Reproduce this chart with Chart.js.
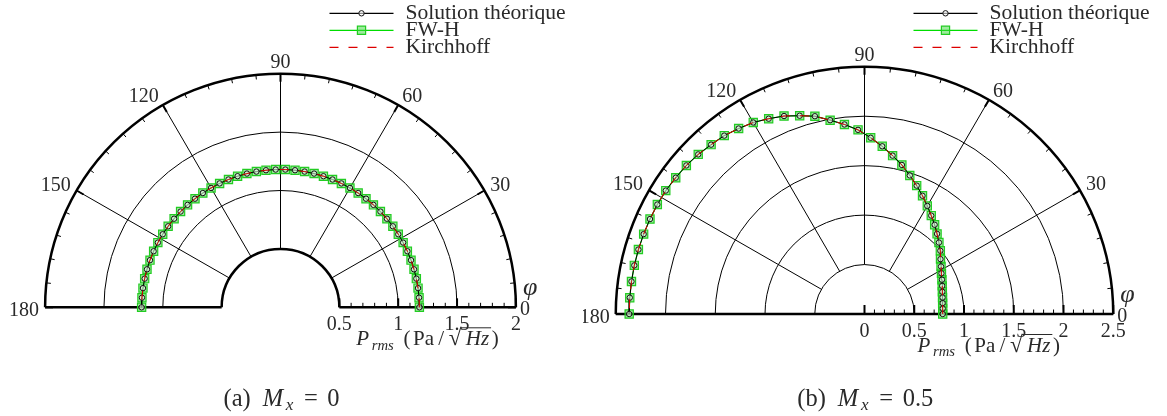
<!DOCTYPE html>
<html>
<head>
<meta charset="utf-8">
<script src="https://cdn.jsdelivr.net/npm/chart.js@4.4.0/dist/chart.umd.min.js"></script>
<style>
  html, body { margin: 0; padding: 0; background: #fff; }
  #wrap { position: relative; width: 1167px; height: 416px; overflow: hidden; }
  canvas { position: absolute; top: 0; }
  #chartA { left: 0; }
  #chartB { left: 583px; }
</style>
</head>
<body>
<div id="wrap">
  <canvas id="chartA" width="583" height="416"></canvas>
  <canvas id="chartB" width="584" height="416"></canvas>
</div>
<script>
// --- data ---
// observation angle phi (deg)
const phi = [0, 4, 8, 12, 16, 20, 24, 28, 32, 36, 40, 44, 48, 52, 56, 60, 64, 68, 72, 76,
             80, 84, 88, 92, 96, 100, 104, 108, 112, 116, 120, 124, 128, 132, 136, 140, 144, 148, 152, 156,
             160, 164, 168, 172, 176, 180];

// P_rms (Pa/sqrt(Hz)) for Mx = 0 -- the three series lie on top of each other
const prmsMx0 = [1.18, 1.18, 1.18, 1.18, 1.18, 1.18, 1.18, 1.18, 1.18, 1.18,
                 1.18, 1.18, 1.18, 1.18, 1.18, 1.18, 1.18, 1.18, 1.18, 1.18,
                 1.18, 1.18, 1.18, 1.18, 1.18, 1.18, 1.18, 1.18, 1.18, 1.18,
                 1.18, 1.18, 1.18, 1.18, 1.18, 1.18, 1.18, 1.18, 1.18, 1.18,
                 1.18, 1.18, 1.18, 1.18, 1.18, 1.18];

// P_rms for Mx = 0.5
const prmsMx05 = [0.786, 0.788, 0.793, 0.802, 0.814, 0.831, 0.852, 0.876, 0.907, 0.944,
                  0.995, 1.040, 1.090, 1.145, 1.200, 1.262, 1.330, 1.400, 1.473, 1.553,
                  1.626, 1.705, 1.783, 1.863, 1.927, 1.990, 2.061, 2.108, 2.159, 2.197,
                  2.236, 2.262, 2.289, 2.304, 2.323, 2.337, 2.345, 2.355, 2.358, 2.360,
                  2.362, 2.364, 2.365, 2.365, 2.365, 2.365];

const seriesNames = ['Solution théorique', 'FW-H', 'Kirchhoff'];
const angleTicks = [30, 60, 90, 120, 150];
const radTicksA = [0.5, 1, 1.5, 2];
const radTicksB = [0, 0.5, 1, 1.5, 2, 2.5];
const captionA = ['(a)', '0'];
const captionB = ['(b)', '0.5'];

const SERIF = '"Liberation Serif", "Times New Roman", serif';
const DEG = Math.PI / 180;
const INK = '#2a2a2a';

// polar -> cartesian so the linear scales can place the marks
function toXY(r) {
  return phi.map((a, i) => ({ x: r[i] * Math.cos(a * DEG), y: r[i] * Math.sin(a * DEG) }));
}

function font(size, italic) {
  return (italic ? 'italic ' : '') + size + 'px ' + SERIF;
}

// lay text pieces out in fixed slots (widths in em, roughly TeX metrics), centred on cx
function drawSlots(ctx, items, cx, y, em) {
  const total = items.reduce((s, it) => s + it.adv * em, 0);
  let x = cx - total / 2;
  ctx.textAlign = 'left';
  ctx.textBaseline = 'alphabetic';
  items.forEach(it => {
    const slot = it.adv * em;
    if (it.t) {
      ctx.font = font(em * (it.s || 1), it.it);
      const w = ctx.measureText(it.t).width;
      ctx.fillText(it.t, x + (slot - w) / 2, y + (it.dy || 0) * em);
    }
    it.x0 = x; it.x1 = x + slot;
    x += slot;
  });
  return items;
}

// --- polar grid, labels and legend drawn with the chart's own scales ---
function polarPlugin(cfg) {
  return {
    id: 'polarGrid',
    beforeDatasetsDraw(chart) {
      const { ctx, scales: { x, y } } = chart;
      const ox = x.getPixelForValue(0), oy = y.getPixelForValue(0);
      const P = (r, a) => [x.getPixelForValue(r * Math.cos(a * DEG)), y.getPixelForValue(r * Math.sin(a * DEG))];
      const halfArc = r => {
        ctx.beginPath();
        ctx.ellipse(ox, oy, x.getPixelForValue(r) - ox, oy - y.getPixelForValue(r), 0, Math.PI, 2 * Math.PI);
        ctx.stroke();
      };
      ctx.save();
      ctx.strokeStyle = '#000';
      ctx.lineCap = 'butt';

      // thin circles and spokes
      ctx.lineWidth = 1;
      cfg.circles.forEach(halfArc);
      angleTicks.forEach(a => {
        const p0 = P(cfg.spokeFrom, a), p1 = P(cfg.rMax, a);
        ctx.beginPath(); ctx.moveTo(p0[0], p0[1]); ctx.lineTo(p1[0], p1[1]); ctx.stroke();
      });

      // ticks on outer arc every 6 deg, pointing inward
      for (let a = 0; a <= 180; a += 6) {
        const major = a % 30 === 0;
        const len = major ? 8 : 4.5;
        const p0 = P(cfg.rMax, a);
        const p1 = [p0[0] - len * Math.cos(a * DEG), p0[1] + len * Math.sin(a * DEG)];
        ctx.lineWidth = major ? 2 : 1;
        ctx.beginPath(); ctx.moveTo(p0[0], p0[1]); ctx.lineTo(p1[0], p1[1]); ctx.stroke();
      }

      // ticks on the radial axis every 0.1
      const k0 = Math.round(cfg.tickFrom * 10), k1 = Math.round(cfg.rMax * 10);
      for (let k = k0; k <= k1; k++) {
        const major = k % 5 === 0;
        const px = x.getPixelForValue(k / 10);
        ctx.lineWidth = major ? 2 : 1;
        ctx.beginPath(); ctx.moveTo(px, oy); ctx.lineTo(px, oy - (major ? 9 : 4.5)); ctx.stroke();
      }

      // thick outline
      ctx.lineWidth = 2.5;
      halfArc(cfg.rMax);
      if (cfg.hole) halfArc(cfg.hole);
      ctx.beginPath();
      if (cfg.hole) {
        ctx.moveTo(x.getPixelForValue(-cfg.rMax), oy); ctx.lineTo(x.getPixelForValue(-cfg.hole), oy);
        ctx.moveTo(x.getPixelForValue(cfg.hole), oy); ctx.lineTo(x.getPixelForValue(cfg.rMax), oy);
      } else {
        ctx.moveTo(x.getPixelForValue(-cfg.rMax), oy); ctx.lineTo(x.getPixelForValue(cfg.rMax), oy);
      }
      ctx.stroke();
      ctx.restore();
    },
    afterDraw(chart) {
      const { ctx, scales: { x, y } } = chart;
      const ox = x.getPixelForValue(0), oy = y.getPixelForValue(0);
      const P = (r, a) => [x.getPixelForValue(r * Math.cos(a * DEG)), y.getPixelForValue(r * Math.sin(a * DEG))];
      const xL = x.getPixelForValue(-cfg.rMax), xR = x.getPixelForValue(cfg.rMax);
      ctx.save();
      ctx.fillStyle = INK;
      ctx.font = font(20);

      // angle labels
      angleTicks.forEach(a => {
        const p = P(cfg.rMax, a);
        ctx.textBaseline = 'alphabetic';
        if (a === 90) { ctx.textAlign = 'center'; ctx.fillText('90', p[0], p[1] - 6); }
        else if (a < 90) { ctx.textAlign = 'left'; ctx.fillText(String(a), p[0] + (a === 60 ? 4 : 6), p[1] - (a === 60 ? 3 : 0)); }
        else { ctx.textAlign = 'right'; ctx.fillText(String(a), p[0] - (a === 120 ? 4 : 6), p[1] - (a === 120 ? 3 : 0)); }
      });
      ctx.textAlign = 'right';
      ctx.fillText('180', xL - 6, oy + 8.5);
      ctx.textAlign = 'left';
      ctx.fillText('0', xR + 4, oy + 8);
      ctx.font = font(26, true);
      ctx.fillText('\u03C6', xR + 7, oy - 12);

      // radial tick labels
      ctx.font = font(20);
      ctx.textAlign = 'center';
      cfg.ticks.forEach(v => ctx.fillText(String(v), x.getPixelForValue(v), oy + 22.5));

      // axis title  P_rms (Pa/sqrt(Hz))
      const ty = oy + 38;
      const t = drawSlots(ctx, [
        { t: 'P', it: true, adv: 0.642 },
        { t: 'rms', it: true, s: 0.7, adv: 1.259, dy: 0.2 },
        { t: '', adv: 0.333 },
        { t: '(', adv: 0.389 },
        { t: 'Pa', adv: 1.181 },
        { t: '/', adv: 0.5 },
        { t: '\u221A', s: 1.1, adv: 0.833 },
        { t: 'Hz', it: true, adv: 1.296 },
        { t: ')', adv: 0.389 }
      ], x.getPixelForValue(1.25), ty, 21);
      ctx.strokeStyle = INK;
      ctx.lineWidth = 1;
      ctx.beginPath();
      ctx.moveTo(t[6].x1 - 3, ty - 17.5);
      ctx.lineTo(t[7].x1, ty - 17.5);
      ctx.stroke();

      // caption
      const cap = cfg.caption;
      drawSlots(ctx, [
        { t: cap[0], adv: cap[0] === '(b)' ? 1.334 : 1.278 },
        { t: '', adv: 0.333 },
        { t: 'M', it: true, adv: 0.97 },
        { t: 'x', it: true, s: 0.7, adv: 0.4, dy: 0.18 },
        { t: '', adv: 0.278 },
        { t: '=', adv: 0.778 },
        { t: '', adv: 0.278 },
        { t: cap[1], adv: cap[1].length > 1 ? 1.278 : 0.5 }
      ], ox, 406, 24.5);

      // legend
      const lx0 = ox + 49, lx1 = ox + 113, mx = (lx0 + lx1) / 2;
      const rows = [13.3, 30.3, 47.3];
      const ds = chart.data.datasets;
      rows.forEach((ry, i) => {
        const d = ds[i];
        ctx.strokeStyle = d.borderColor;
        ctx.lineWidth = 1.2;
        ctx.setLineDash(d.borderDash || []);
        ctx.beginPath(); ctx.moveTo(lx0, ry); ctx.lineTo(lx1, ry); ctx.stroke();
        ctx.setLineDash([]);
        if (d.pointRadius > 0) {
          ctx.fillStyle = d.pointBackgroundColor;
          ctx.strokeStyle = d.pointBorderColor;
          ctx.lineWidth = d.pointBorderWidth;
          ctx.beginPath();
          if (d.pointStyle === 'rect') {
            const s = d.pointRadius * Math.SQRT1_2;
            ctx.rect(mx - s, ry - s, 2 * s, 2 * s);
          } else {
            ctx.arc(mx, ry, d.pointRadius, 0, 2 * Math.PI);
          }
          ctx.fill(); ctx.stroke();
        }
        ctx.fillStyle = INK;
        ctx.font = font(21.6);
        ctx.textAlign = 'left';
        ctx.textBaseline = 'alphabetic';
        ctx.fillText(seriesNames[i], ox + 125, ry + 6);
      });
      ctx.restore();
    }
  };
}

function makePanel(id, cfg) {
  const cv = document.getElementById(id);
  const W = cv.width, H = cv.height;
  const pts = toXY(cfg.r);
  return new Chart(cv, {
    type: 'scatter',
    data: {
      datasets: [
        {
          label: seriesNames[0], data: pts, showLine: true,
          borderColor: '#000', borderWidth: 1,
          pointRadius: 2.7, pointBorderWidth: 1,
          pointBorderColor: '#111', pointBackgroundColor: 'rgba(255,255,255,0.55)',
          order: 2
        },
        {
          label: seriesNames[1], data: pts, showLine: true,
          borderColor: '#00dd00', borderWidth: 1.2,
          pointStyle: 'rect', pointRadius: 5.8, pointBorderWidth: 1.2,
          pointBorderColor: '#22cc22', pointBackgroundColor: 'rgba(60,215,60,0.5)',
          order: 3
        },
        {
          label: seriesNames[2], data: pts, showLine: true,
          borderColor: '#dd0000', borderWidth: 1, borderDash: [9, 10],
          pointRadius: 0,
          order: 1
        }
      ]
    },
    options: {
      responsive: false,
      animation: false,
      events: [],
      layout: { padding: 0, autoPadding: false },
      plugins: { legend: { display: false }, tooltip: { enabled: false } },
      scales: {
        x: { type: 'linear', display: false, min: -cfg.cx / cfg.ux, max: (W - cfg.cx) / cfg.ux },
        y: { type: 'linear', display: false, min: -(H - cfg.cy) / cfg.uy, max: cfg.cy / cfg.uy }
      }
    },
    plugins: [polarPlugin(cfg)]
  });
}

makePanel('chartA', {
  r: prmsMx0, cx: 280.5, cy: 307.3, ux: 117.7, uy: 116.8,
  rMax: 2, hole: 0.5, spokeFrom: 0.5, tickFrom: 0.5,
  circles: [1, 1.5], ticks: radTicksA, caption: captionA
});

makePanel('chartB', {
  r: prmsMx05, cx: 281.5, cy: 314, ux: 99.5, uy: 98.9,
  rMax: 2.5, hole: 0, spokeFrom: 0.5, tickFrom: 0,
  circles: [0.5, 1, 1.5, 2], ticks: radTicksB, caption: captionB
});
</script>
</body>
</html>
